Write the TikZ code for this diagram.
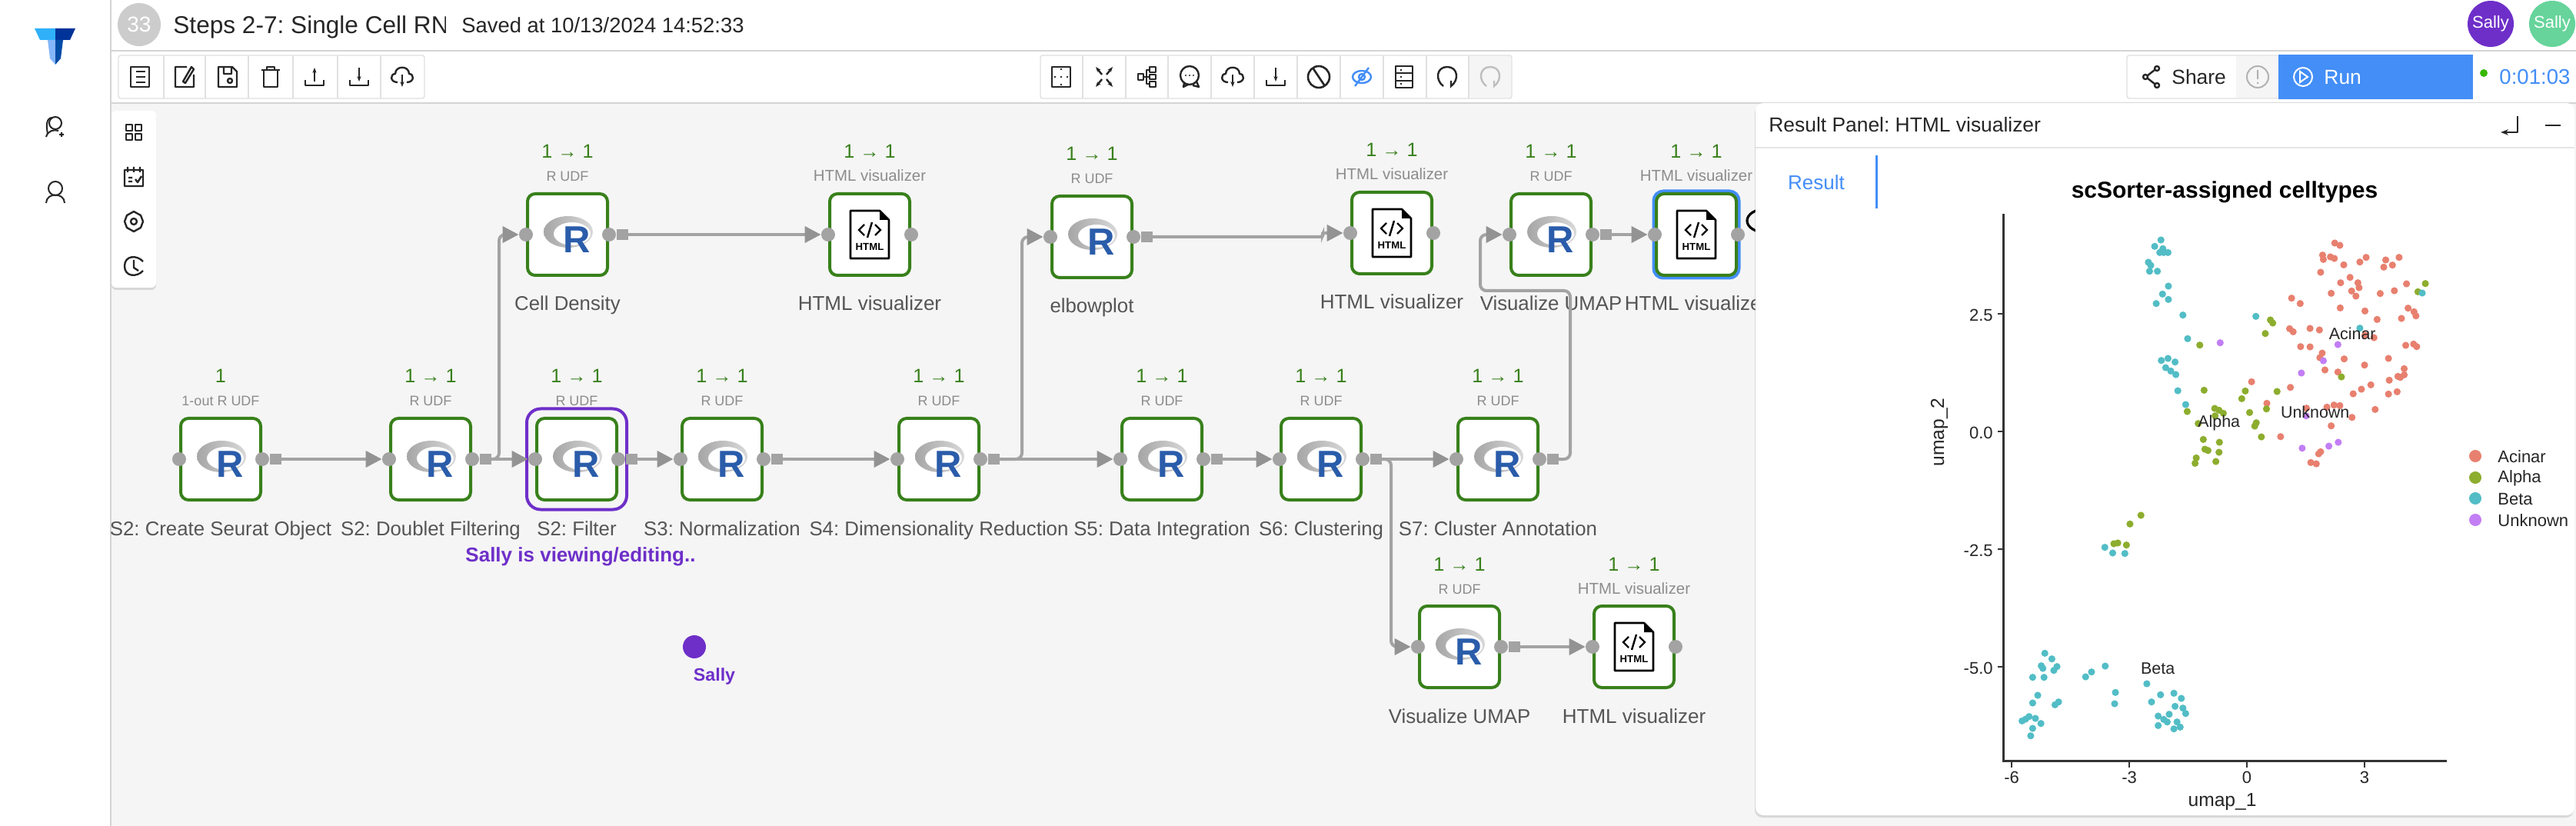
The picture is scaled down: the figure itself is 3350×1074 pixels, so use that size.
\documentclass[tikz,border=0pt]{standalone}
\usepackage{fontspec}
\setmainfont{Liberation Sans}
\frenchspacing
\usetikzlibrary{positioning,arrows.meta,shadows}
\definecolor{canvasgray}{HTML}{F5F5F5}
\definecolor{rulegray}{HTML}{D4D4D4}
\definecolor{wiregray}{HTML}{A3A3A3}
\definecolor{tipgray}{HTML}{939393}
\definecolor{opgreen}{HTML}{38801B}
\definecolor{namegray}{HTML}{555555}
\definecolor{kindgray}{HTML}{8C8C8C}
\definecolor{sallypurple}{HTML}{6E2FC9}
\definecolor{sallygreen}{HTML}{66D49B}
\definecolor{runblue}{HTML}{438EF7}
\definecolor{rblue}{HTML}{2A5CAA}
\definecolor{acinarred}{HTML}{E8806F}
\definecolor{alphagreen}{HTML}{8DAD2E}
\definecolor{betateal}{HTML}{52BDC6}
\definecolor{unknownpurple}{HTML}{C27EF5}
\begin{document}
\begin{tikzpicture}[x=0.5pt, y=-0.5pt,
		opbox/.style={draw=opgreen, fill=white, line width=2pt, rounded corners=5pt, minimum width=52pt, minimum height=53pt, inner sep=0pt},
		portdot/.style={circle, fill=wiregray, inner sep=0pt, minimum size=9pt},
		portsq/.style={fill=tipgray!85!white, inner sep=0pt, minimum width=7.5pt, minimum height=7.2pt},
		wire/.style={line width=2pt, draw=wiregray, rounded corners=4pt, -{Triangle[length=10.5pt, width=10.5pt, color=tipgray]}},
		ratetext/.style={anchor=base, inner sep=0pt, text=opgreen, font=\fontsize{12.6}{14}\selectfont},
		kindtext/.style={anchor=base, inner sep=0pt, text=kindgray, font=\fontsize{9}{11}\selectfont},
		nametext/.style={anchor=base, inner sep=0pt, text=namegray, font=\fontsize{12.9}{15}\selectfont},
		sallytext/.style={inner sep=0pt, text=sallypurple, font=\bfseries\fontsize{13}{15}\selectfont},
		plottext/.style={inner sep=0pt, text=black!85, font=\fontsize{10.7}{12}\selectfont},
		ticktext/.style={inner sep=0pt, text=black!85, font=\fontsize{11}{13}\selectfont},
		icon/.style={draw=black!85, line width=1.2pt, line join=round},
		tbframe/.style={draw=black!12, fill=white, line width=0.7pt, rounded corners=1.5pt},
		pics/rlogo/.style={code={
			\path[even odd rule, left color=black!35, right color=black!15] (1,-3.5) ellipse[x radius=32, y radius=20.5] (6,-1) ellipse[x radius=24, y radius=15];
			\node[inner sep=0pt, text=rblue, font=\bfseries\fontsize{24.5}{25}\selectfont] (r) at (12,7) {R};
		}},
		pics/htmlfile/.style={code={
			\draw[black, line width=1.3pt, line join=round, fill=white] (-25,-31) -- (13,-31) -- (25,-19) -- (25,31) -- (-25,31) -- cycle;
			\fill[black] (13,-31) -- (25,-19) -- (13,-19) -- cycle;
			\draw[black, line width=1.2pt] (-7,-13) -- (-14,-6) -- (-7,1) (7,-13) -- (14,-6) -- (7,1) (3,-16) -- (-3,4);
			\node[inner sep=0pt, text=black, font=\bfseries\fontsize{6.6}{8}\selectfont] (t) at (0,16) {HTML};
		}},
		pics/dlicon/.style={code={
			\draw[icon] (-12,4) -- (-12,11) -- (12,11) -- (12,4);
			\draw[icon, -{Stealth[length=3.5pt]}] (0,-12) -- (0,6);
		}},
		pics/ulicon/.style={code={
			\draw[icon] (-12,4) -- (-12,11) -- (12,11) -- (12,4);
			\draw[icon, -{Stealth[length=3.5pt]}] (0,6) -- (0,-12);
		}},
		pics/cloudicon/.style={code={
			\draw[icon] (-6,7) .. controls (-16,7) and (-16,-4) .. (-9,-4) .. controls (-9,-15) and (9,-15) .. (9,-4) .. controls (16,-4) and (16,7) .. (6,7);
			\draw[icon, -{Stealth[length=3.5pt]}] (0,-3) -- (0,13);
		}},
		pics/redoicon/.style={code={
			\draw[line width=1.2pt] (-5,12) .. controls (-16,4) and (-14,-13) .. (0,-13) .. controls (14,-13) and (16,4) .. (5,12) -- (5,5);
		}}]
	\useasboundingbox (0,0) rectangle (3350,1074);
	\fill[white] (0,0) rectangle (3350,1074);
	\fill[canvasgray] (144,134) rectangle (3350,1074);
	\draw[rulegray, line width=1pt] (144,0) -- (144,1074);
	\draw[rulegray, line width=1pt] (144,66) -- (3350,66);
	\draw[rulegray, line width=1pt] (144,134) -- (3350,134);
	% header
	\fill[black!20] (181,32) circle[radius=28];
	\node[inner sep=0pt, text=white, font=\fontsize{14}{16}\selectfont] (number) at (181,32) {33};
	\begin{scope}
		\clip (220,0) rectangle (579,66);
		\node[anchor=base west, inner sep=0pt, text=black!85, font=\fontsize{15.8}{18}\selectfont] (title) at (225,44) {Steps 2-7: Single Cell RN};
	\end{scope}
	\node[anchor=base west, inner sep=0pt, text=black!85, font=\fontsize{13.7}{16}\selectfont] (saved) at (600,43) {Saved at 10/13/2024 14:52:33};
	\fill[sallypurple] (3239,31) circle[radius=30];
	\fill[sallygreen] (3319,31) circle[radius=30];
	\node[inner sep=0pt, text=white, font=\fontsize{11}{12}\selectfont] (avatara) at (3239,31) {Sally};
	\node[inner sep=0pt, text=white, font=\fontsize{11}{12}\selectfont] (avatarb) at (3319,31) {Sally};
	% sidebar
	\fill[runblue!70!cyan] (45,37) -- (72,37) -- (72,52) -- (52,52) -- cycle;
	\fill[blue!50!black!80!cyan] (72,37) -- (98,37) -- (91,52) -- (72,52) -- cycle;
	\fill[runblue!65!white] (62,52) -- (72,52) -- (72,84) -- (65,76) -- cycle;
	\fill[blue!50!black!70!cyan] (72,52) -- (82,52) -- (79,76) -- (72,84) -- cycle;
	\draw[icon, line width=1pt] (72,160) circle[radius=8];
	\draw[icon, line width=1pt] (62,174) .. controls (60,164) and (60,153) .. (68,153);
	\draw[icon, line width=1pt] (60,178) .. controls (62,170) and (70,168) .. (76,170) (80,172) -- (80,178) (77,175) -- (83,175);
	\draw[icon, line width=1pt] (72,245) circle[radius=9];
	\draw[icon, line width=1pt] (60,264) .. controls (60,250) and (84,250) .. (84,264);
	% toolbars
	\draw[tbframe] (154,72) rectangle (552,128);
	\foreach \x in {213,267,323,381,439,495}
		\draw[black!12, line width=0.7pt] (\x,72) -- (\x,128);
	\draw[tbframe] (1353,72) rectangle (1966,128);
	\fill[canvasgray] (1910,73) rectangle (1965,127);
	\foreach \x in {1408,1464,1519,1575,1631,1687,1743,1799,1855,1910}
		\draw[black!12, line width=0.7pt] (\x,72) -- (\x,128);
	\draw[icon, shift={(182,100)}] (-12,-13) rectangle (12,13) (-5,-7) -- (7,-7) (-5,0) -- (7,0) (-5,7) -- (7,7);
	\draw[icon, shift={(240,100)}] (3,-13) -- (-12,-13) -- (-12,13) -- (12,13) -- (12,-3) (-2,6) -- (9,-13) -- (12,-10) -- (1,8) -- cycle;
	\draw[icon, shift={(296,100)}] (-12,-13) -- (6,-13) -- (12,-7) -- (12,13) -- (-12,13) -- cycle (-5,-13) -- (-5,-4) -- (5,-4) -- (5,-13) (3,5) circle[radius=3];
	\draw[icon, shift={(352,100)}] (-12,-9) -- (12,-9) (-5,-9) -- (-5,-13) -- (5,-13) -- (5,-9) (-9,-9) -- (-9,13) -- (9,13) -- (9,-9);
	\pic at (409,100) {ulicon};
	\pic at (467,100) {dlicon};
	\pic at (523,100) {cloudicon};
	\draw[icon, shift={(1380,100)}] (-12,-13) rectangle (12,13);
	\fill[black!85] (1380,90) circle[radius=1.3] (1380,100) circle[radius=1.3] (1380,110) circle[radius=1.3] (1372,100) circle[radius=1.3] (1388,100) circle[radius=1.3];
	\foreach \a/\b in {-1/-1,1/-1,-1/1,1/1}
		\draw[icon, shift={(1436,100)}, -{Stealth[length=3.5pt]}] (\a*3,\b*3) -- (\a*11,\b*13);
	\draw[icon, shift={(1492,100)}] (-12,-4) rectangle (-5,4) (3,-13) rectangle (11,-6) (3,-3) rectangle (11,3) (3,6) rectangle (11,13) (-5,0) -- (3,0) (-1,0) -- (-1,-9) -- (3,-9) (-1,0) -- (-1,9) -- (3,9);
	\draw[icon, shift={(1548,100)}] (-1,-2) circle[radius=12] (-8,8) -- (-9,13) -- (-3,10) (8,6) -- (11,13) -- (3,11);
	\fill[black!85] (1542,98) circle[radius=1.2] (1547,98) circle[radius=1.2] (1552,98) circle[radius=1.2];
	\pic at (1603,100) {cloudicon};
	\pic at (1659,100) {dlicon};
	\draw[icon, line width=1.3pt, shift={(1715,100)}] (0,0) circle[radius=14] (-8,-12) -- (8,12);
	\draw[runblue, line width=1.2pt, shift={(1771,100)}] (0,0) ellipse[x radius=12, y radius=8] (0,0) circle[radius=4] (9,-12) -- (-9,12);
	\draw[icon, shift={(1826,100)}] (-11,-14) rectangle (11,14) (-11,-5) -- (11,-5) (-11,5) -- (11,5) (-5,-9) -- (-3,-9) (-5,0) -- (-3,0) (-5,9) -- (-3,9);
	\pic[black!85] at (1882,100) {redoicon};
	\pic[black!25] at (1938,100) {redoicon};
	% share and run
	\draw[tbframe] (2766,72) rectangle (2963,128);
	\fill[canvasgray] (2908,73) rectangle (2963,127);
	\fill[runblue] (2963,71) rectangle (3216,129);
	\draw[icon, shift={(2797,100)}] (8,-11) circle[radius=3] (-7,0) circle[radius=3] (8,11) circle[radius=3] (5,-9) -- (-4,-2) (-4,2) -- (5,9);
	\node[anchor=base west, inner sep=0pt, text=black!85, font=\fontsize{13.2}{16}\selectfont] (share) at (2824,110) {Share};
	\draw[black!30, line width=1pt] (2936,100) circle[radius=14] (2936,91) -- (2936,103) (2936,107) -- (2936,109);
	\draw[white, line width=1pt] (2995,100) circle[radius=12] (2991,93) -- (3001,100) -- (2991,107) -- cycle;
	\node[anchor=base west, inner sep=0pt, text=white, font=\fontsize{13.2}{16}\selectfont] (run) at (3022,110) {Run};
	\fill[green!60!black!70!lime] (3230,95) circle[radius=5];
	\node[anchor=base west, inner sep=0pt, text=runblue, font=\fontsize{13.8}{16}\selectfont] (timer) at (3250,110) {0:01:03};
	% side tools
	\fill[white, rounded corners=3pt, drop shadow={shadow xshift=0pt, shadow yshift=-1.5pt, opacity=0.25}] (145,144) rectangle (203,374);
	\draw[icon, shift={(174,172)}] (-10,-10) rectangle (-2,-2) (2,-10) rectangle (10,-2) (-10,2) rectangle (-2,10) (2,2) rectangle (10,10);
	\draw[icon, shift={(174,230)}] (-12,-9) rectangle (12,12) (-8,-13) -- (-8,-6) (0,-13) -- (0,-6) (8,-13) -- (8,-6) (-7,1) -- (-2,1) (-7,6) -- (-2,6) (2,3) -- (5,7) -- (10,-1);
	\draw[icon, shift={(174,288)}] (0,0) circle[radius=4] (0,-13) -- (9,-8) -- (12,0) -- (9,8) -- (0,13) -- (-9,8) -- (-12,0) -- (-9,-8) -- cycle;
	\draw[icon, shift={(174,346)}] (12,-6) .. controls (4,-15) and (-12,-14) .. (-12,0) .. controls (-12,14) and (4,15) .. (12,6) (0,-8) -- (0,2) -- (6,6);
	% editing marker
	\node[draw=sallypurple, line width=2pt, rounded corners=9pt, minimum width=65pt, minimum height=65.5pt, inner sep=0pt] (editframe) at (750,597) {};
	\node[draw=runblue, line width=2.5pt, rounded corners=6pt, minimum width=55pt, minimum height=56pt, inner sep=0pt] (pickframe) at (2206,305) {};
	% operators
	\foreach \n/\x/\y/\r/\k/\t in {create/287/597/1/1-out R UDF/S2: Create Seurat Object,
			doublet/560/597/1 → 1/R UDF/S2: Doublet Filtering,
			filter/750/597/1 → 1/R UDF/S2: Filter,
			norm/939/597/1 → 1/R UDF/S3: Normalization,
			dimred/1221/597/1 → 1/R UDF/S4: Dimensionality Reduction,
			integ/1511/597/1 → 1/R UDF/S5: Data Integration,
			cluster/1718/597/1 → 1/R UDF/S6: Clustering,
			annot/1948/597/1 → 1/R UDF/S7: Cluster Annotation,
			density/738/305/1 → 1/R UDF/Cell Density,
			elbow/1420/308/1 → 1/R UDF/elbowplot,
			umapa/2017/305/1 → 1/R UDF/Visualize UMAP,
			umapb/1898/841/1 → 1/R UDF/Visualize UMAP} {
		\node[opbox] (\n) at (\x,\y) {};
		\node[portdot] (\n-in) at (\n.west) {};
		\node[portdot] (\n-out) at (\n.east) {};
		\node[portsq, right=0pt of \n-out] (\n-sq) {};
		\pic (\n-ic) at (\x,\y) {rlogo};
		\node[ratetext] (\n-rate) at (\x,\y-99) {\r};
		\node[kindtext] (\n-kind) at (\x,\y-69) {\k};
		\node[nametext] (\n-name) at (\x,\y+99) {\t};
	}
	\foreach \n/\x/\y in {hdensity/1131/305, helbow/1810/303, humapa/2206/305, humapb/2125/841} {
		\node[opbox] (\n) at (\x,\y) {};
		\node[portdot] (\n-in) at (\n.west) {};
		\node[portdot] (\n-out) at (\n.east) {};
		\pic (\n-ic) at (\x,\y) {htmlfile};
		\node[ratetext] (\n-rate) at (\x,\y-99) {1 → 1};
		\node[kindtext, font=\fontsize{10.2}{12}\selectfont] (\n-kind) at (\x,\y-69) {HTML visualizer};
		\node[nametext, font=\fontsize{13}{15}\selectfont] (\n-name) at (\x,\y+99) {HTML visualizer};
	}
	\coordinate (upa) at (649,450);
	\coordinate (upb) at (1329,450);
	\coordinate (jog) at (1720,305);
	\coordinate (downa) at (1809,700);
	\coordinate (loopa) at (2042,378);
	\coordinate (loopb) at (1925,378);
	\draw[wire] (create-sq) -- (doublet-in);
	\draw[wire] (doublet-sq) -- (filter-in);
	\draw[wire] (filter-sq) -- (norm-in);
	\draw[wire] (norm-sq) -- (dimred-in);
	\draw[wire] (dimred-sq) -- (integ-in);
	\draw[wire] (integ-sq) -- (cluster-in);
	\draw[wire] (cluster-sq) -- (annot-in);
	\draw[wire] (density-sq) -- (hdensity-in);
	\draw[wire] (umapa-sq) -- (humapa-in);
	\draw[wire] (umapb-sq) -- (humapb-in);
	\draw[wire] (doublet-sq) -| (upa) |- (density-in);
	\draw[wire] (dimred-sq) -| (upb) |- (elbow-in);
	\draw[wire, rounded corners=1.5pt] (elbow-sq) -| (jog) |- (helbow-in);
	\draw[wire] (cluster-sq) -| (downa) |- (umapb-in);
	\draw[wire] (annot-sq) -| (loopa) -- (loopb) |- (umapa-in);
	\draw[black, line width=1.6pt] (2295,287) ellipse[x radius=23, y radius=15];
	\node[sallytext] (editing) at (755,724) {Sally is viewing/editing..};
	\fill[sallypurple] (903,841) circle[radius=15];
	\node[sallytext, anchor=base, font=\bfseries\fontsize{11.6}{14}\selectfont] (sally) at (929,885) {Sally};
	% result panel
	\fill[white, rounded corners=5pt, drop shadow={shadow xshift=-0.5pt, shadow yshift=-1.5pt, opacity=0.25}] (2283,134) rectangle (3348,1060);
	\node[anchor=base west, inner sep=0pt, text=black!85, font=\fontsize{13.2}{15}\selectfont] (paneltitle) at (2300,172) {Result Panel: HTML visualizer};
	\draw[icon, -{Stealth[length=5pt]}] (3274,151) -- (3274,172) -- (3252,172);
	\draw[icon] (3310,163) -- (3330,163);
	\draw[black!10, line width=1pt] (2283,192) -- (3348,192);
	\node[inner sep=0pt, text=runblue, font=\fontsize{13}{15}\selectfont] (resulttab) at (2362,237) {Result};
	\draw[runblue, line width=1.5pt] (2440,202) -- (2440,271);
	\node[inner sep=0pt, text=black, font=\bfseries\fontsize{15}{18}\selectfont] (plottitle) at (2893,250) {scSorter-assigned celltypes};
	\draw[black!80, line width=1.5pt] (2605,278) -- (2605,989) -- (3182,989);
	\foreach \n/\y/\t in {ya/408/2.5, yb/561/0.0, yc/714/-2.5, yd/867/-5.0} {
		\draw[black!80, line width=1pt] (2598,\y) -- (2605,\y);
		\node[ticktext, anchor=east] (\n) at (2592,\y+2) {\t};
	}
	\foreach \n/\x/\t in {xa/2616/-6, xb/2769/-3, xc/2922/0, xd/3075/3} {
		\draw[black!80, line width=1pt] (\x,989) -- (\x,998);
		\node[ticktext] (\n) at (\x,1011) {\t};
	}
	\node[ticktext, font=\fontsize{12.3}{14}\selectfont] (xtitle) at (2890,1043) {umap\_1};
	\node[ticktext, font=\fontsize{12.3}{14}\selectfont, rotate=90] (ytitle) at (2522,562) {umap\_2};
	\begin{scope}[shift={(1275pt,-130pt)}, x=0.2551pt, y=-0.1667pt]
		\foreach \p in {(953,168),(966,177),(922,215),(924,232),(942,222),(952,228),(976,253),(1017,242),(1033,224),(1083,234),(1078,262),(1100,254),(1117,224),(917,282),(992,302),(968,323),(1012,323),(1015,342),(996,355),(944,364),(1007,375),(1069,365),(1105,354),(1136,327),(843,383),(865,404),(967,421),(1030,433),(1061,466),(1123,462),(1140,422),(1155,436),(1160,452),(838,502),(847,514),(890,501),(914,507),(1053,537),(1030,527),(866,572),(890,573),(1134,567),(1154,562),(1162,572),(921,597),(915,615),(977,620),(1090,618),(1029,644),(928,663),(961,671),(1130,658),(1114,688),(1120,692),(1130,682),(1092,703),(741,709),(840,731),(1045,721),(1021,738),(1000,756),(1090,757),(1112,748),(780,793),(881,812),(933,808),(951,800),(966,802),(1056,817),(997,848),(944,881),(815,923),(917,982),(912,990),(892,1024),(906,1029)}
			\fill[acinarred] \p circle[radius=2.3pt];
		\foreach \p in {(1184,326),(1165,358),(789,468),(795,480),(776,521),(609,566),(970,690),(620,742),(725,745),(806,747),(716,775),(779,815),(647,813),(658,820),(669,832),(648,842),(736,829),(577,825),(605,872),(753,869),(749,882),(766,924),(618,934),(659,945),(622,972),(630,977),(658,984),(600,1006),(650,1020),(597,1027)}
			\fill[alphagreen] \p circle[radius=2.3pt];
		\foreach \p in {(510,156),(494,181),(515,190),(507,205),(517,205),(528,205),(478,243),(484,255),(481,278),(501,278),(529,336),(514,367),(529,388),(498,404),(566,449),(752,454),(1176,363),(1017,500),(578,541),(528,618),(511,626),(546,632),(522,654),(535,667),(548,681),(553,744),(573,798)}
			\fill[betateal] \p circle[radius=2.3pt];
		\foreach \p in {(661,557),(961,564),(924,627),(868,675),(880,842),(962,945),(938,960),(870,968)}
			\fill[unknownpurple] \p circle[radius=2.3pt];
		\node[plottext] (acinar) at (998,520) {Acinar};
		\node[plottext] (alpha) at (658,870) {Alpha};
		\node[plottext] (unknown) at (903,828) {Unknown};
	\end{scope}
	\begin{scope}[shift={(1275pt,-330pt)}, x=0.2551pt, y=-0.1667pt]
		\foreach \p in {(459,30),(431,64),(390,141),(400,138),(422,146)}
			\fill[alphagreen] \p circle[radius=2.3pt];
		\foreach \p in {(367,155),(387,177),(418,179),(214,568),(232,590),(205,617),(209,627),(245,620),(237,635),(183,662),(212,662),(368,618),(333,641),(318,660),(474,687),(394,721),(392,765),(196,732),(183,762),(249,758),(240,769),(509,730),(543,724),(562,744),(486,758),(546,775),(566,782),(531,806),(573,803),(503,813),(517,826),(526,836),(551,836),(503,850),(559,856),(543,863),(174,815),(190,822),(165,825),(156,832),(204,842),(183,861),(178,890)}
			\fill[betateal] \p circle[radius=2.3pt];
		\node[plottext] (beta) at (502,628) {Beta};
	\end{scope}
	\foreach \n/\y/\c/\t in {lega/593/acinarred/Acinar, legb/621/alphagreen/Alpha, legc/648/betateal/Beta, legd/676/unknownpurple/Unknown} {
		\fill[\c] (3219,\y) circle[radius=8];
		\node[ticktext, anchor=west] (\n) at (3248,\y+1) {\t};
	}
\end{tikzpicture}
\end{document}
